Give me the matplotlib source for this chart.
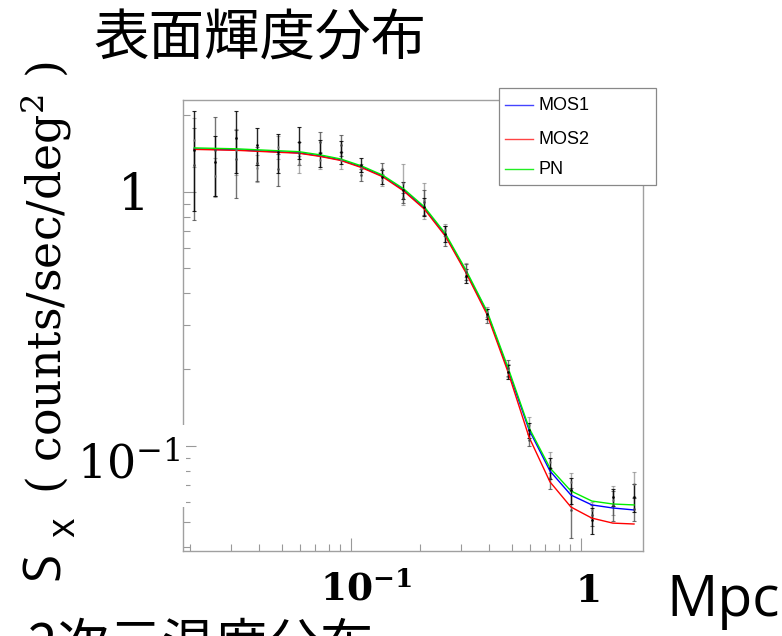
import matplotlib.pyplot as plt
from matplotlib.patches import Rectangle
from matplotlib.lines import Line2D
from matplotlib.ticker import LogLocator, NullFormatter

# radial bins (Mpc)
radius = [0.0208, 0.0256, 0.0316, 0.0390, 0.0481, 0.0593, 0.0731, 0.0901,
          0.111, 0.137, 0.169, 0.208, 0.257, 0.317, 0.391, 0.482,
          0.594, 0.733, 0.904, 1.115, 1.375, 1.70]

# best-fit surface brightness models
model_mos1 = [1.476, 1.470, 1.464, 1.451, 1.438, 1.425, 1.386, 1.336, 1.254, 1.156, 1.018,
              0.865, 0.677, 0.484, 0.334, 0.199, 0.116, 0.0797, 0.0641, 0.0586, 0.0570, 0.0560]
model_mos2 = [1.470, 1.464, 1.458, 1.445, 1.432, 1.420, 1.380, 1.330, 1.247, 1.148, 1.010,
              0.857, 0.670, 0.478, 0.328, 0.195, 0.1085, 0.0722, 0.0575, 0.0520, 0.0497, 0.0493]
model_pn = [1.490, 1.484, 1.478, 1.465, 1.452, 1.440, 1.400, 1.348, 1.266, 1.165, 1.030,
            0.875, 0.686, 0.490, 0.338, 0.203, 0.118, 0.0819, 0.0665, 0.0607, 0.0591, 0.0586]

# measured profiles with errors
data_mos1 = [1.464, 1.313, 1.632, 1.531, 1.438, 1.573, 1.425, 1.438, 1.277, 1.146, 1.018,
             0.873, 0.683, 0.467, 0.331, 0.196, 0.1156, 0.0819, 0.0671, 0.0511, 0.063, 0.063]
err_mos1 = [0.62, 0.35, 0.45, 0.25, 0.25, 0.22, 0.17, 0.15, 0.08, 0.07, 0.08,
            0.07, 0.05, 0.03, 0.015, 0.013, 0.008, 0.008, 0.008, 0.006, 0.005, 0.008]
data_mos2 = [1.277, 1.464, 1.349, 1.301, 1.232, 1.425, 1.573, 1.531, 1.167, 1.232, 0.947,
             0.913, 0.671, 0.484, 0.325, 0.203, 0.1056, 0.0748, 0.056, 0.0535, 0.0586, 0.0565]
err_mos2 = [0.5, 0.5, 0.4, 0.2, 0.18, 0.15, 0.15, 0.15, 0.06, 0.07, 0.04,
            0.1, 0.06, 0.035, 0.02, 0.015, 0.006, 0.007, 0.0125, 0.005, 0.008, 0.006]
data_pn = [1.602, 1.156, 1.464, 1.243, 1.503, 1.289, 1.336, 1.336, 1.243, 1.115, 1.085,
           0.930, 0.708, 0.493, 0.337, 0.199, 0.121, 0.0865, 0.0722, 0.056, 0.0614, 0.0709]
err_pn = [0.35, 0.2, 0.3, 0.15, 0.15, 0.1, 0.1, 0.1, 0.05, 0.06, 0.2,
          0.15, 0.04, 0.03, 0.015, 0.012, 0.009, 0.008, 0.006, 0.004, 0.008, 0.008]

W, H = 782, 636


def fx(px):
    return px / W


def fy(py):
    return 1 - py / H


fig = plt.figure(figsize=(W / 100, H / 100), dpi=100)
ax = fig.add_axes([fx(183), fy(551), 460 / W, 451 / H])

for d, e, c, a in [(data_pn, err_pn, '#777777', 0.6),
                   (data_mos2, err_mos2, '#444444', 0.75),
                   (data_mos1, err_mos1, '#000000', 0.85)]:
    ax.errorbar(radius, d, yerr=e, fmt='.', ms=2, color=c, alpha=a,
                elinewidth=1.0, capsize=1.5, capthick=0.8)

ax.plot(radius, model_mos1, color='#0000ff', lw=1.0)
ax.plot(radius, model_mos2, color='#ff0000', lw=1.0)
ax.plot(radius, model_pn, color='#00ee00', lw=1.0)

ax.set_xscale('log')
ax.set_yscale('log')
ax.set_xlim(0.0186, 1.86)
ax.set_ylim(0.0386, 2.30)
for axis in (ax.xaxis, ax.yaxis):
    axis.set_major_locator(LogLocator(base=10))
    axis.set_minor_locator(LogLocator(base=10, subs=range(2, 10)))
    axis.set_major_formatter(NullFormatter())
    axis.set_minor_formatter(NullFormatter())
ax.tick_params(which='both', direction='in', color='#999999', width=0.8,
               top=False, right=False)
ax.tick_params(which='major', length=9.5)
ax.tick_params(which='minor', length=5)
for sp in ax.spines.values():
    sp.set_color('#a0a0a0')
    sp.set_linewidth(1.0)

# legend box
fig.add_artist(Rectangle((fx(499), fy(185)), 157 / W, 97 / H, transform=fig.transFigure,
                         facecolor='white', edgecolor='#888888', lw=0.9, zorder=5))
for yy, name, c in [(105, 'MOS1', '#4444ff'), (139, 'MOS2', '#ff4444'), (169, 'PN', '#22ee22')]:
    fig.add_artist(Line2D([fx(505), fx(533)], [fy(yy), fy(yy)], color=c, lw=1.0,
                          transform=fig.transFigure, zorder=6))
    fig.text(fx(539), fy(yy), name, fontsize=13, family='Liberation Sans',
             va='center', ha='left', zorder=6)

# white box behind the lower y label
fig.add_artist(Rectangle((fx(80), fy(507)), 106 / W, 82 / H, transform=fig.transFigure,
                         facecolor='white', edgecolor='none', zorder=4))

cjk = ['Noto Sans CJK JP', 'DejaVu Sans']
fig.text(fx(93), fy(40), '表面輝度分布', fontsize=40, family=cjk, va='center', ha='left')
fig.text(fx(28), fy(618), '2次元温度分布', fontsize=38, family=cjk, va='top', ha='left')

# axis labels
fig.text(fx(150), fy(196), '1', fontsize=36, family='DejaVu Serif', ha='right', va='center')
fig.text(fx(180), fy(466), r'$10^{-1}$', fontsize=33, math_fontfamily='dejavuserif',
         ha='right', va='center', zorder=5)
fig.text(fx(366), fy(590), r'$\mathbf{10^{-1}}$', fontsize=27, math_fontfamily='dejavuserif',
         ha='center', va='center')
fig.text(fx(587), fy(592), r'$\mathbf{1}$', fontsize=27, math_fontfamily='dejavuserif',
         ha='center', va='center')
fig.text(fx(666), fy(602), 'Mpc', fontsize=41, family='Open Sans', ha='left', va='center')

fig.text(fx(45), fy(566), 'S', fontsize=37, family='Open Sans', rotation=90,
         ha='center', va='center')
fig.text(fx(64), fy(527), 'x', fontsize=27, family='Open Sans', rotation=90,
         ha='center', va='center')
fig.text(fx(46), fy(278), r'( counts/sec/deg$^{2}$ )', fontsize=33, family='DejaVu Serif',
         math_fontfamily='dejavuserif', rotation=90, ha='center', va='center')

fig.savefig('out.png', dpi=100)
